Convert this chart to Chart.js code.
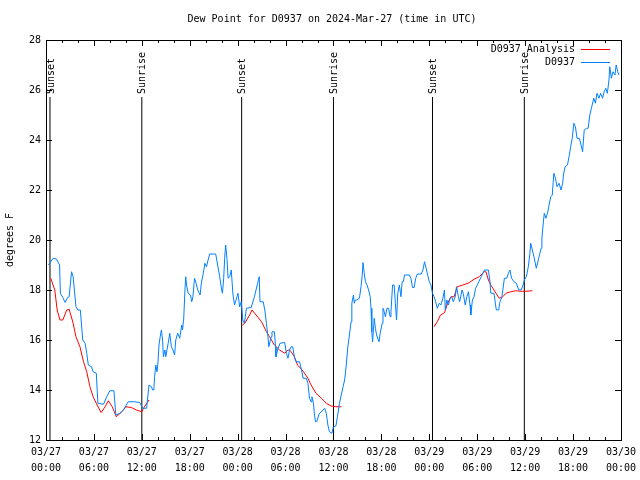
<!DOCTYPE html>
<html>
<head>
<meta charset="utf-8">
<script src="https://cdn.jsdelivr.net/npm/chart.js@4/dist/chart.umd.min.js"></script>
<style>
body { margin: 0; background: #fff; }
canvas { display: block; }
</style>
</head>
<body>
<canvas id="dewChart" width="640" height="480"></canvas>
<script>
// observations, hours since 03/27 00:00 UTC
const obsHours = [0.3, 0.9, 1.3, 1.7, 1.8, 2.1, 2.4, 2.7, 2.9, 3.2, 3.4, 3.75, 4.0, 4.3, 4.6, 4.9, 5.1, 5.3, 5.7, 5.9,
    6.3, 6.5, 7.2, 7.6, 8.0, 8.5, 8.75, 9.25, 9.7, 10.3, 11.1, 11.75, 12.1, 12.6, 12.9, 13.2, 13.35, 13.5, 13.6, 13.75,
    13.9, 14.0, 14.15, 14.3, 14.45, 14.6, 14.7, 14.9, 15.0, 15.3, 15.5, 15.7, 15.9, 16.1, 16.25, 16.5, 16.75, 17.0, 17.1, 17.25,
    17.4, 17.5, 17.6, 17.8, 18.1, 18.25, 18.4, 18.6, 18.8, 19.0, 19.3, 19.45, 19.7, 19.9, 20.1, 20.3, 20.5, 21.25, 21.5, 21.75,
    22.0, 22.1, 22.25, 22.4, 22.5, 22.66, 22.8, 23.0, 23.2, 23.4, 23.6, 23.8, 24.04, 24.25, 24.45, 24.65, 24.85, 25.1, 25.7, 26.1,
    26.3, 26.5, 26.7, 26.8, 27.2, 27.4, 27.6, 27.8, 27.9, 28.2, 28.3, 28.6, 28.75, 28.8, 29.0, 29.3, 29.9, 30.1, 30.3, 30.5,
    30.7, 30.9, 31.1, 31.3, 31.75, 32.0, 32.2, 32.6, 32.8, 33.0, 33.2, 33.3, 33.5, 33.6, 33.75, 33.9, 34.2, 34.9, 35.1, 35.3,
    35.5, 35.8, 36.0, 36.3, 36.5, 36.75, 37.2, 37.4, 37.6, 37.8, 38.0, 38.2, 38.3, 38.5, 38.6, 38.75, 38.9, 39.25, 39.45, 39.6,
    39.7, 39.85, 40.0, 40.2, 40.4, 40.6, 40.7, 40.8, 40.9, 41.1, 41.25, 41.4, 41.7, 41.85, 42.1, 42.2, 42.3, 42.5, 42.7, 42.9,
    43.1, 43.2, 43.4, 43.6, 43.75, 43.9, 44.05, 44.25, 44.45, 44.6, 44.75, 44.9, 45.5, 45.7, 45.9, 46.1, 46.3, 46.5, 47.0, 47.2,
    47.4, 47.6, 47.8, 48.0, 48.2, 48.4, 48.6, 48.8, 49.0, 49.25, 49.45, 49.7, 49.9, 50.0, 50.2, 50.4, 50.6, 50.8, 51.0, 51.25,
    51.4, 51.65, 51.8, 52.1, 52.25, 52.5, 52.7, 52.9, 53.1, 53.2, 53.4, 53.6, 53.8, 54.2, 54.5, 54.9, 55.4, 55.6, 55.7, 56.1,
    56.3, 56.4, 56.7, 56.8, 57.1, 57.4, 57.7, 57.9, 58.1, 58.3, 58.6, 58.9, 59.2, 59.5, 59.75, 59.9, 60.15, 60.4, 60.6, 60.7,
    60.9, 61.1, 61.4, 61.7, 62.0, 62.1, 62.25, 62.4, 62.6, 62.8, 63.0, 63.2, 63.4, 63.6, 63.8, 64.0, 64.25, 64.5, 64.7, 64.8,
    65.0, 65.3, 65.5, 65.7, 65.9, 66.1, 66.3, 66.5, 66.8, 67.2, 67.4, 67.7, 67.9, 68.1, 68.3, 68.6, 68.8, 69.0, 69.25, 69.45,
    69.7, 69.9, 70.1, 70.3, 70.5, 70.6, 70.8, 71.0, 71.25, 71.4, 71.6, 71.75];
const obsDew = [19.0, 19.27, 19.24, 19.0, 17.87, 17.7, 17.5, 17.7, 17.73, 18.73, 18.53, 17.33, 17.2, 17.2, 16.0, 15.87, 15.47, 15.0, 14.93, 14.73,
    14.67, 13.47, 13.43, 13.73, 13.97, 13.97, 13.0, 13.07, 13.2, 13.53, 13.53, 13.5, 13.27, 13.27, 14.2, 14.13, 14.0, 14.0, 14.53, 15.0,
    14.73, 15.0, 15.8, 16.13, 16.4, 16.0, 15.33, 15.6, 15.33, 15.87, 16.27, 15.73, 15.6, 15.4, 16.0, 16.27, 16.07, 16.6, 16.4, 16.87,
    18.0, 18.53, 18.2, 17.87, 17.8, 17.53, 17.73, 18.47, 18.27, 18.0, 17.8, 18.27, 18.67, 19.07, 18.93, 19.2, 19.44, 19.44, 19.0, 18.53,
    18.0, 17.87, 18.47, 19.4, 19.8, 19.27, 18.47, 18.53, 18.8, 17.87, 17.4, 17.6, 17.87, 17.33, 17.53, 16.8, 16.67, 17.27, 17.3, 17.73,
    18.0, 18.27, 18.53, 17.53, 17.53, 17.2, 16.67, 16.13, 15.73, 16.13, 16.33, 16.33, 15.73, 15.33, 15.6, 15.87, 15.9, 15.47, 15.27, 15.6,
    15.73, 15.73, 15.33, 15.13, 15.13, 14.8, 14.47, 14.47, 14.27, 13.67, 13.53, 13.73, 13.47, 13.07, 12.73, 12.73, 13.04, 13.27, 13.07, 12.6,
    12.33, 12.27, 12.53, 12.56, 12.93, 13.47, 14.13, 14.4, 15.0, 15.73, 16.2, 16.73, 17.47, 17.8, 17.47, 17.6, 17.6, 17.67, 18.13, 18.6,
    19.1, 18.67, 18.33, 18.2, 18.0, 17.73, 17.27, 16.33, 15.93, 16.87, 16.47, 16.2, 15.93, 16.27, 16.67, 17.27, 17.2, 16.93, 17.27, 17.27,
    16.93, 17.13, 18.2, 18.2, 17.47, 16.8, 17.87, 18.2, 17.73, 18.33, 18.33, 18.6, 18.6, 18.47, 18.1, 18.1, 18.47, 18.64, 18.64, 18.8,
    19.13, 18.87, 18.6, 18.33, 18.2, 17.87, 17.73, 17.53, 17.27, 17.47, 17.4, 17.67, 18.0, 17.2, 17.6, 17.4, 17.67, 17.73, 17.53, 17.73,
    18.13, 17.73, 17.53, 18.0, 17.87, 17.4, 17.73, 17.93, 17.4, 17.0, 17.6, 17.73, 18.07, 18.33, 18.53, 18.8, 18.8, 18.33, 17.87, 17.87,
    17.4, 17.2, 17.2, 17.47, 17.73, 18.47, 18.47, 18.67, 18.8, 18.47, 18.33, 18.27, 18.0, 18.0, 18.2, 18.4, 18.53, 18.93, 19.47, 19.87,
    19.6, 19.33, 18.87, 19.27, 19.67, 20.07, 20.6, 21.07, 20.87, 21.07, 21.4, 21.73, 21.8, 22.67, 22.47, 22.13, 22.27, 22.0, 22.27, 22.6,
    22.93, 23.0, 23.33, 23.73, 24.07, 24.67, 24.53, 24.07, 24.07, 23.53, 24.4, 24.47, 24.47, 25.0, 25.27, 25.67, 25.47, 25.87, 25.67, 25.87,
    25.67, 25.93, 26.07, 25.87, 26.4, 26.93, 26.47, 26.73, 26.6, 27.0, 26.73, 26.6];

// analysis, null marks a break in the line
const anaHours = [0.6, 1.1, 1.4, 1.75, 2.1, 2.6, 2.9, 3.4, 3.75, 4.25, 4.7, 5.1, 5.5, 5.9, 6.4, 6.9, 7.4, 7.8, 8.3, 8.8,
    9.5, 10.0, 10.7, 11.3, 12.0, 12.2, 12.9, 18.0,
    24.6, 24.9, 25.5, 25.8, 27.0, 27.6, 28.0, 28.6, 29.25, 29.9, 30.3, 30.5, 30.7, 31.1, 31.5, 32.2, 32.8, 33.2, 33.8, 34.5,
    35.1, 35.7, 36.3, 37.0, 42.0,
    48.6, 49.0, 49.4, 49.9, 50.3, 50.7, 51.1, 51.5, 52.2, 53.0, 53.6, 54.25, 54.9, 55.1, 55.4, 55.7, 56.1, 56.75, 57.2, 57.6,
    58.2, 58.8, 59.5, 60.1, 60.5, 60.9];
const anaDew = [18.47, 18.0, 17.2, 16.8, 16.8, 17.2, 17.23, 16.67, 16.13, 15.73, 15.13, 14.73, 14.13, 13.73, 13.4, 13.1, 13.33, 13.57, 13.33, 12.93,
    13.13, 13.33, 13.3, 13.2, 13.13, 13.27, 13.6, null,
    16.6, 16.67, 17.0, 17.2, 16.73, 16.33, 16.13, 15.8, 15.6, 15.47, 15.6, 15.6, 15.53, 15.33, 15.0, 14.75, 14.47, 14.2, 13.87, 13.67,
    13.47, 13.36, 13.33, 13.33, null,
    16.53, 16.73, 17.0, 17.09, 17.47, 17.73, 17.73, 18.13, 18.2, 18.29, 18.43, 18.53, 18.73, 18.73, 18.4, 18.2, 18.0, 17.67, 17.73, 17.87,
    17.93, 17.97, 17.95, 17.95, 17.96, 17.97];

const eventHours = [0.5, 12.0, 24.5, 36.0, 48.4, 59.9];
const eventNames = ["Sunset", "Sunrise", "Sunset", "Sunrise", "Sunset", "Sunrise"];
const eventTop = 25.72;

const tickLabels = [
    ["03/27", "00:00"], ["03/27", "06:00"], ["03/27", "12:00"], ["03/27", "18:00"],
    ["03/28", "00:00"], ["03/28", "06:00"], ["03/28", "12:00"], ["03/28", "18:00"],
    ["03/29", "00:00"], ["03/29", "06:00"], ["03/29", "12:00"], ["03/29", "18:00"],
    ["03/30", "00:00"]
];

const FONT = "DejaVu Sans Mono";
const BLUE = "rgb(0,128,255)";
const RED = "rgb(255,0,0)";

function toPoints(xs, ys)
{
    const pts = [];
    for (let i = 0; i < xs.length; i++)
        pts.push({ x: xs[i], y: ys[i] });
    return pts;
}

function eventPoints()
{
    const pts = [];
    for (let i = 0; i < eventHours.length; i++)
    {
        pts.push({ x: eventHours[i], y: 12 });
        pts.push({ x: eventHours[i], y: eventTop });
        pts.push({ x: eventHours[i], y: null });
    }
    return pts;
}

// frame, inward ticks, title, legend and event labels, gnuplot style
const decorations = {
    id: 'decorations',
    afterDraw(chart)
    {
        const ctx = chart.ctx;
        const a = chart.chartArea;
        const xs = chart.scales.x;
        const ys = chart.scales.y;
        ctx.save();
        ctx.strokeStyle = '#000';
        ctx.lineWidth = 1;
        ctx.beginPath();
        for (let h = 0; h <= 72; h += 2)
        {
            const px = Math.round(xs.getPixelForValue(h)) + 0.5;
            const len = (h % 6 === 0) ? 6 : 3;
            ctx.moveTo(px, a.bottom); ctx.lineTo(px, a.bottom - len);
            ctx.moveTo(px, a.top); ctx.lineTo(px, a.top + len);
        }
        for (let v = 12; v <= 28; v += 2)
        {
            const py = Math.round(ys.getPixelForValue(v)) + 0.5;
            ctx.moveTo(a.left, py); ctx.lineTo(a.left + 6, py);
            ctx.moveTo(a.right, py); ctx.lineTo(a.right - 6, py);
        }
        ctx.stroke();
        ctx.strokeRect(Math.round(a.left) + 0.5, Math.round(a.top) + 0.5,
            Math.round(a.right - a.left), Math.round(a.bottom - a.top));

        ctx.fillStyle = '#000';
        ctx.font = '10px "' + FONT + '"';
        ctx.textAlign = 'center';
        ctx.textBaseline = 'middle';
        ctx.fillText('Dew Point for D0937 on 2024-Mar-27 (time in UTC)', 332, 19);

        ctx.save();
        ctx.translate(10, 240);
        ctx.rotate(-Math.PI / 2);
        ctx.fillText('degrees F', 0, 0);
        ctx.restore();

        for (let i = 0; i < eventHours.length; i++)
        {
            const px = xs.getPixelForValue(eventHours[i]);
            ctx.save();
            ctx.translate(px + 1, ys.getPixelForValue(eventTop) - 3);
            ctx.rotate(-Math.PI / 2);
            ctx.textAlign = 'left';
            ctx.fillText(eventNames[i], 0, 0);
            ctx.restore();
        }

        const legend = [['D0937 Analysis', RED, 49], ['D0937', BLUE, 62]];
        ctx.textAlign = 'right';
        for (let i = 0; i < legend.length; i++)
        {
            ctx.fillStyle = '#000';
            ctx.fillText(legend[i][0], 575, legend[i][2]);
            ctx.strokeStyle = legend[i][1];
            ctx.beginPath();
            ctx.moveTo(581, legend[i][2] + 0.5);
            ctx.lineTo(610, legend[i][2] + 0.5);
            ctx.stroke();
        }
        ctx.restore();
    }
};

function showDewChart()
{
    const ctx = document.getElementById('dewChart').getContext('2d');
    new Chart(ctx, {
        type: 'line',
        data: {
            datasets: [{
                label: 'D0937',
                data: toPoints(obsHours, obsDew),
                borderColor: BLUE,
                borderWidth: 1,
                pointRadius: 0,
                tension: 0
            }, {
                label: 'D0937 Analysis',
                data: toPoints(anaHours, anaDew),
                borderColor: RED,
                borderWidth: 1,
                pointRadius: 0,
                tension: 0,
                spanGaps: false
            }, {
                label: 'events',
                data: eventPoints(),
                borderColor: '#000',
                borderWidth: 1,
                pointRadius: 0,
                spanGaps: false
            }]
        },
        options: {
            responsive: false,
            animation: false,
            layout: { padding: { top: 40, right: 19, left: 0, bottom: 0 } },
            plugins: {
                legend: { display: false },
                title: { display: false },
                tooltip: { enabled: false }
            },
            scales: {
                x: {
                    type: 'linear',
                    min: 0,
                    max: 72,
                    grid: { display: false, drawTicks: false },
                    border: { display: false },
                    afterFit: function (s) { s.height = 40; },
                    afterBuildTicks: function (s) {
                        s.ticks = tickLabels.map((t, i) => ({ value: i * 6 }));
                    },
                    ticks: {
                        autoSkip: false,
                        maxRotation: 0,
                        padding: 4,
                        color: '#000',
                        font: { family: FONT, size: 10, lineHeight: 1.6 },
                        callback: function (value, index) { return tickLabels[index]; }
                    }
                },
                y: {
                    min: 12,
                    max: 28,
                    grid: { display: false, drawTicks: false },
                    border: { display: false },
                    afterFit: function (s) { s.width = 46; },
                    ticks: {
                        stepSize: 2,
                        padding: 5,
                        color: '#000',
                        font: { family: FONT, size: 10 }
                    }
                }
            }
        },
        plugins: [decorations]
    });
}

showDewChart();
</script>
</body>
</html>
